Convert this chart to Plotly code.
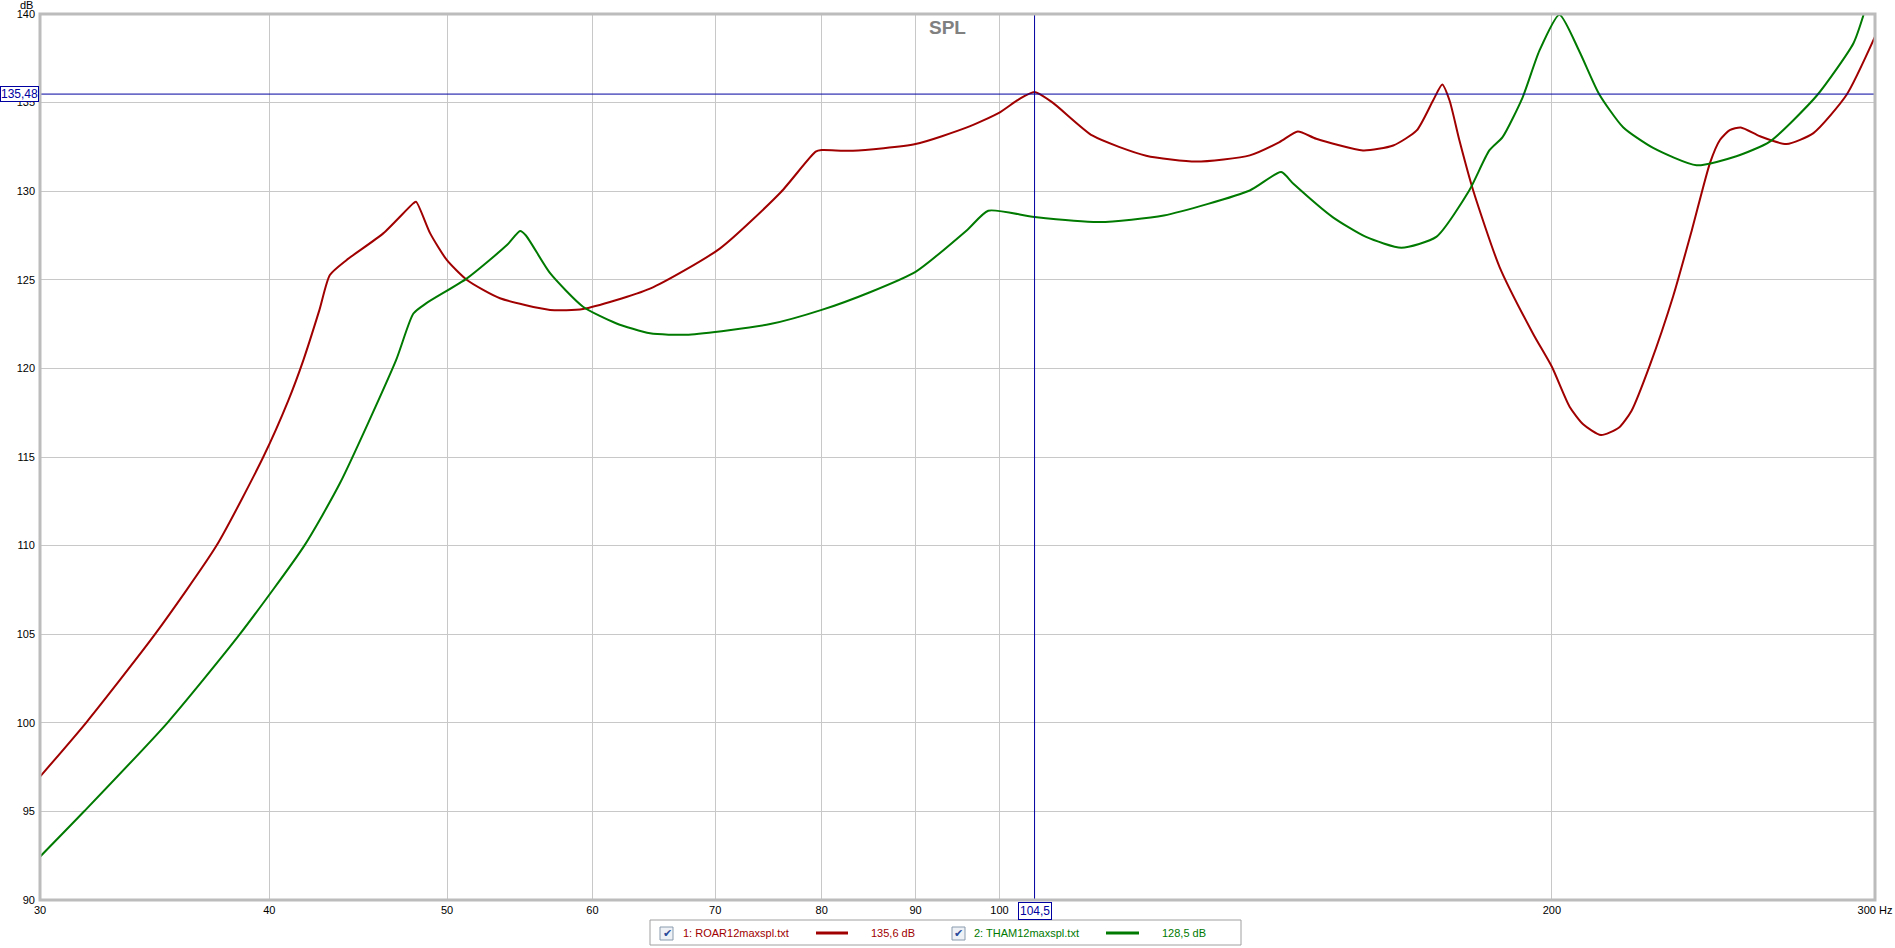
import math
import plotly.graph_objects as go

# ---------------- data ----------------
roar_freq = [30, 31.8, 34.66, 37.44, 39.7, 40.97, 41.75, 42.6, 43.16, 44.08, 46.15, 47.93, 48.1,
             48.95, 49.98, 51.26, 53.43, 56.9, 59.3, 64.5, 70.4, 76.0, 79.4, 80.0, 83.2, 90.0,
             96.0, 100.0, 102.5, 104.5, 106.9, 112.4, 120.2, 128.0, 136.9, 142.1, 145.4, 148.8,
             157.8, 163.9, 168.8, 172.3, 174.3, 175.9, 178.1, 181.2, 187.3, 195.3, 200.0, 204.5,
             208.0, 212.7, 217.5, 221.0, 226.2, 232.9, 238.4, 243.9, 247.0, 250.0, 253.5, 259.7,
             268.5, 277.7, 289.5, 300.0]
roar_db = [96.96, 100.03, 105.0, 110.0, 115.0, 118.2, 120.47, 123.3, 125.27, 126.12, 127.62, 129.32, 129.4,
           127.62, 126.12, 124.99, 123.96, 123.3, 123.35, 124.5, 126.76, 129.94, 132.23, 132.32, 132.28, 132.66,
           133.6, 134.44, 135.2, 135.6, 135.0, 133.13, 132.0, 131.67, 132.02, 132.77, 133.37, 132.96,
           132.3, 132.58, 133.43, 135.12, 136.02, 135.12, 132.86, 130.04, 125.72, 121.97, 120.09, 117.84,
           116.85, 116.24, 116.65, 117.6, 120.2, 124.09, 127.8, 131.6, 132.9, 133.45, 133.6, 133.1,
           132.66, 133.28, 135.44, 138.72]

tham_freq = [30, 31.72, 35.2, 38.55, 41.8, 43.7, 46.9, 47.93, 48.7, 51.26, 53.9, 54.8, 55.2, 56.9,
             59.3, 61.8, 64.5, 67.7, 75.0, 80.0, 85.0, 90.0, 96.0, 98.6, 104.5, 113.4, 122.9,
             136.9, 142.4, 144.6, 151.9, 158.4, 165.6, 173.0, 180.3, 184.9, 188.0, 192.8, 196.9,
             201.9, 207.0, 212.2, 218.7, 227.1, 239.8, 252.1, 262.9, 278.9, 292.0, 295.7]
tham_db = [92.44, 95.02, 100.0, 105.0, 110.0, 113.5, 120.47, 123.1, 123.67, 125.08, 126.96, 127.75, 127.5, 125.37,
           123.48, 122.55, 121.98, 121.9, 122.5, 123.3, 124.3, 125.45, 127.8, 128.9, 128.54, 128.26, 128.63,
           130.04, 131.08, 130.42, 128.54, 127.42, 126.81, 127.42, 130.04, 132.3, 133.05, 135.3, 137.93,
           139.96, 137.9, 135.49, 133.61, 132.44, 131.46, 131.97, 132.8, 135.4, 138.35, 139.94]

series_names = ["1: ROAR12maxspl.txt", "2: THAM12maxspl.txt"]
series_values = ["135,6 dB", "128,5 dB"]

x_tickvals = [30, 40, 50, 60, 70, 80, 90, 100, 200, 300]
x_ticktext = ["30", "40", "50", "60", "70", "80", "90", "100", "200", "300 Hz"]
y_tickvals = [90, 95, 100, 105, 110, 115, 120, 125, 130, 135, 140]

cursor_freq = 104.5
cursor_db = 135.48
cursor_freq_label = "104,5"
cursor_db_label = "135,48"

# ---------------- styling ----------------
W, H = 1895, 948
ML, MR, MT, MB = 40, 20, 14, 48
PW, PH = W - ML - MR, H - MT - MB
RED = "#a00000"
GREEN = "#007a00"
BLUE = "#0000a0"
FONT = "Liberation Sans, Arial, sans-serif"


def px(xp):
    return (xp - ML) / PW


def py(yp):
    return (H - MB - yp) / PH


fig = go.Figure()
fig.add_trace(go.Scatter(x=roar_freq, y=roar_db, mode="lines", name=series_names[0],
                         line=dict(color=RED, width=2, shape="spline", smoothing=0.6),
                         hoverinfo="x+y"))
fig.add_trace(go.Scatter(x=tham_freq, y=tham_db, mode="lines", name=series_names[1],
                         line=dict(color=GREEN, width=2, shape="spline", smoothing=0.6),
                         hoverinfo="x+y"))
# cursor lines
fig.add_trace(go.Scatter(x=[cursor_freq, cursor_freq], y=[90, 140], mode="lines",
                         line=dict(color=BLUE, width=1), hoverinfo="skip", showlegend=False))
fig.add_trace(go.Scatter(x=[30, 300], y=[cursor_db, cursor_db], mode="lines",
                         line=dict(color=BLUE, width=1), hoverinfo="skip", showlegend=False))

shapes = []
# plot frame
shapes.append(dict(type="rect", xref="paper", yref="paper", x0=0, x1=1, y0=0, y1=1,
                   line=dict(color="#bcbcbc", width=3), layer="above"))
# legend box
shapes.append(dict(type="rect", xref="paper", yref="paper", x0=px(650), x1=px(1241),
                   y0=py(945), y1=py(920), line=dict(color="#a0a0a0", width=1),
                   fillcolor="white", layer="above"))
annotations = []
leg_y = py(933)
legend_items = [
    (660, 681, 816, 848, 869, RED, 0),
    (952, 972, 1106, 1139, 1160, GREEN, 1),
]
for cbx, tx, lx0, lx1, vx, col, i in legend_items:
    shapes.append(dict(type="rect", xref="paper", yref="paper", x0=px(cbx), x1=px(cbx + 13),
                       y0=py(940), y1=py(927), line=dict(color="#8a9aae", width=1),
                       fillcolor="#eef2f7", layer="above"))
    annotations.append(dict(xref="paper", yref="paper", x=px(cbx + 7), y=py(933.5), text="✔",
                            showarrow=False, font=dict(family="DejaVu Sans", size=11, color="#2a4a9a"),
                            xanchor="center", yanchor="middle"))
    annotations.append(dict(xref="paper", yref="paper", x=px(tx), y=leg_y, text=series_names[i],
                            showarrow=False, font=dict(family=FONT, size=11, color=col),
                            xanchor="left", yanchor="middle"))
    shapes.append(dict(type="line", xref="paper", yref="paper", x0=px(lx0), x1=px(lx1),
                       y0=leg_y, y1=leg_y, line=dict(color=col, width=3), layer="above"))
    annotations.append(dict(xref="paper", yref="paper", x=px(vx), y=leg_y, text=series_values[i],
                            showarrow=False, font=dict(family=FONT, size=11, color=col),
                            xanchor="left", yanchor="middle"))

# title
annotations.append(dict(xref="paper", yref="paper", x=px(947), y=py(27), text="<b>SPL</b>",
                        showarrow=False, font=dict(family=FONT, size=19, color="#808080"),
                        xanchor="center", yanchor="middle"))
# dB unit
annotations.append(dict(xref="paper", yref="paper", x=px(35), y=py(5), text="dB",
                        showarrow=False, font=dict(family=FONT, size=11, color="black"),
                        xanchor="right", yanchor="middle"))
# cursor labels
annotations.append(dict(xref="paper", yref="y", x=px(0), y=cursor_db, text=cursor_db_label,
                        showarrow=False, font=dict(family=FONT, size=12, color=BLUE),
                        xanchor="left", yanchor="middle", bgcolor="white",
                        bordercolor=BLUE, borderwidth=1, borderpad=0))
annotations.append(dict(xref="x", yref="paper", x=math.log10(cursor_freq), y=py(910.5),
                        text=cursor_freq_label, showarrow=False,
                        font=dict(family=FONT, size=12, color=BLUE),
                        xanchor="center", yanchor="middle", bgcolor="white",
                        bordercolor=BLUE, borderwidth=1, borderpad=1))

fig.update_layout(
    width=W, height=H,
    margin=dict(l=ML, r=MR, t=MT, b=MB, pad=0, autoexpand=False),
    paper_bgcolor="white", plot_bgcolor="white",
    showlegend=False,
    shapes=shapes, annotations=annotations,
    font=dict(family=FONT, size=11, color="black"),
    xaxis=dict(type="log", range=[math.log10(30), math.log10(300)],
               tickvals=x_tickvals, ticktext=x_ticktext, showgrid=True,
               gridcolor="#c8c8c8", gridwidth=1, zeroline=False, ticks="",
               showline=False, automargin=False,
               tickfont=dict(family=FONT, size=11, color="black"),
               ticklabelstandoff=2),
    yaxis=dict(range=[90, 140], tickvals=y_tickvals, showgrid=True,
               gridcolor="#c8c8c8", gridwidth=1, zeroline=False, ticks="",
               showline=False, automargin=False,
               tickfont=dict(family=FONT, size=11, color="black"),
               ticklabelstandoff=4),
)

fig.write_html("out.html", config={"displayModeBar": False},
               post_script="document.body.style.margin='0';document.body.style.overflow='hidden';")
